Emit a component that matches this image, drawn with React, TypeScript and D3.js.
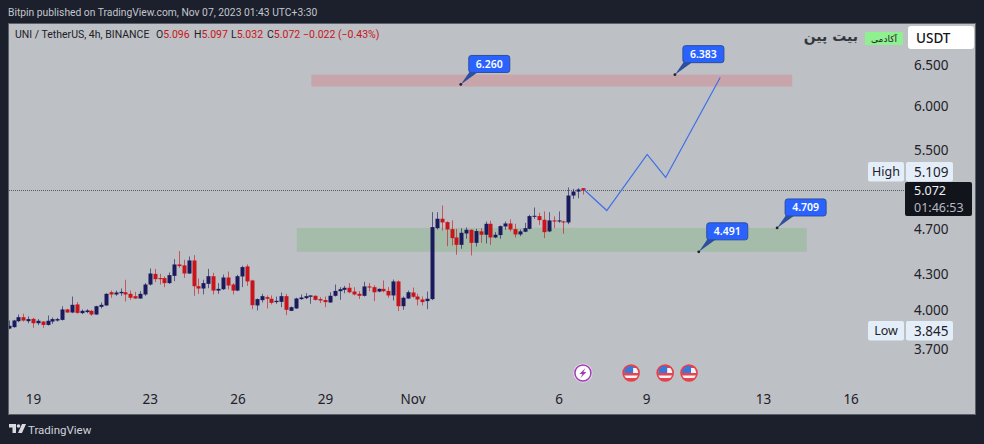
// UNI / TetherUS 4h chart, drawn with d3 through a ref
import { useEffect, useRef } from 'react';
import * as d3 from 'd3';

const W = 984, H = 444;
const uiFont = "'Noto Sans','Open Sans',sans-serif";
const headFont = "Roboto,'Noto Sans',sans-serif";

const C = {
  page: '#1c202c',
  pane: '#bdc0c4',
  up: '#1b1a5e',
  down: '#c8141a',
  text: '#1e2129',
  callout: '#2962ff',
  calloutEdge: '#2d4f9e',
  line: '#3f6fe8',
  zoneRed: '#c8a5aa',
  zoneGreen: '#a6bcab',
  tag: '#e4eef9',
};

// 4h bars, first bar is Oct 18 04:00 UTC
const FIRST_BAR = Date.UTC(2023, 9, 18, 4);
const BAR_MS = 4 * 3600 * 1000;

const opens = [
  3.857,3.868,3.914,3.945,3.914,3.932,3.898,3.911,3.885,3.911,3.919,3.924,4.006,3.982,4.046,3.977,3.985,3.995,3.966,4.027,
  4.038,4.145,4.127,4.137,4.145,4.132,4.113,4.094,4.127,4.209,4.299,4.263,4.263,4.221,4.282,4.380,4.372,4.302,4.415,4.195,
  4.176,4.215,4.279,4.159,4.170,4.268,4.209,4.159,4.277,4.363,4.243,4.038,4.081,4.105,4.092,4.065,4.067,4.113,3.995,4.014,
  4.089,4.097,4.108,4.116,4.089,4.081,4.062,4.116,4.154,4.165,4.182,4.151,4.132,4.116,4.193,4.187,4.151,4.173,4.156,4.119,
  4.235,4.032,4.094,4.143,4.110,4.086,4.073,4.089,4.707,4.796,4.764,4.698,4.621,4.554,4.658,4.692,4.572,4.677,4.646,4.748,
  4.621,4.643,4.723,4.751,4.698,4.649,4.674,4.701,4.815,4.821,4.786,4.677,4.780,4.770,4.770,4.761,5.022,5.062,5.096,
];
const highs = [
  3.919,3.924,3.966,3.972,3.951,3.940,3.930,3.914,3.958,3.943,3.940,4.032,4.011,4.110,4.065,4.006,4.008,4.003,4.035,4.062,
  4.137,4.159,4.159,4.176,4.249,4.159,4.148,4.154,4.221,4.345,4.342,4.299,4.277,4.311,4.427,4.498,4.421,4.450,4.462,4.260,
  4.249,4.342,4.308,4.221,4.293,4.319,4.221,4.291,4.369,4.380,4.249,4.094,4.132,4.119,4.119,4.110,4.143,4.132,4.030,4.100,
  4.127,4.137,4.119,4.119,4.105,4.110,4.145,4.209,4.187,4.198,4.221,4.187,4.154,4.232,4.221,4.204,4.176,4.243,4.187,4.251,
  4.243,4.110,4.159,4.184,4.132,4.110,4.151,4.859,4.859,4.924,4.771,4.780,4.701,4.707,4.714,4.695,4.701,4.707,4.770,4.777,
  4.670,4.732,4.770,4.790,4.748,4.695,4.757,4.834,4.904,4.853,4.866,4.859,4.819,4.866,4.777,5.103,5.089,5.096,5.097,
];
const lows = [
  3.852,3.863,3.906,3.911,3.898,3.863,3.883,3.863,3.880,3.893,3.911,3.919,3.979,3.977,3.972,3.969,3.977,3.956,3.964,4.014,
  4.035,4.100,4.116,4.116,4.070,4.083,4.092,4.092,4.116,4.201,4.229,4.209,4.187,4.215,4.237,4.351,4.265,4.299,4.116,4.132,
  4.127,4.179,4.127,4.132,4.165,4.168,4.127,4.154,4.187,4.198,4.008,3.998,4.062,4.014,4.046,4.051,4.024,3.961,3.993,4.011,
  4.083,4.089,4.051,4.078,4.057,4.024,4.059,4.110,4.083,4.137,4.137,4.119,4.089,4.110,4.154,4.073,4.145,4.145,4.100,4.078,
  3.993,4.003,4.092,4.100,4.038,4.038,4.008,4.081,4.695,4.686,4.542,4.548,4.465,4.518,4.609,4.459,4.539,4.572,4.566,4.554,
  4.615,4.609,4.692,4.677,4.621,4.633,4.670,4.695,4.796,4.738,4.615,4.670,4.707,4.758,4.655,4.745,4.989,4.995,5.032,
];
const closes = [
  3.878,3.919,3.945,3.919,3.930,3.898,3.917,3.885,3.917,3.930,3.930,4.006,3.982,4.043,3.979,3.995,3.998,3.966,4.032,4.043,
  4.132,4.127,4.143,4.148,4.127,4.100,4.094,4.132,4.209,4.302,4.254,4.254,4.221,4.288,4.380,4.366,4.302,4.415,4.195,4.176,
  4.221,4.279,4.159,4.173,4.268,4.201,4.159,4.279,4.357,4.235,4.040,4.089,4.113,4.092,4.059,4.075,4.113,4.003,4.024,4.094,
  4.102,4.113,4.119,4.083,4.078,4.065,4.116,4.156,4.170,4.182,4.145,4.127,4.116,4.193,4.184,4.145,4.173,4.154,4.119,4.235,
  4.032,4.100,4.145,4.108,4.086,4.065,4.092,4.717,4.796,4.761,4.695,4.615,4.554,4.664,4.692,4.572,4.680,4.646,4.748,4.621,
  4.646,4.726,4.751,4.695,4.649,4.677,4.707,4.821,4.824,4.783,4.670,4.780,4.770,4.780,4.761,5.022,5.062,5.082,5.072,
];

// axis
const priceTicks = [6.5, 6.0, 5.5, 4.7, 4.3, 4.0, 3.7];
const timeTicks = [
  Date.UTC(2023, 9, 19), Date.UTC(2023, 9, 23), Date.UTC(2023, 9, 26), Date.UTC(2023, 9, 29),
  Date.UTC(2023, 10, 1), Date.UTC(2023, 10, 6), Date.UTC(2023, 10, 9), Date.UTC(2023, 10, 13), Date.UTC(2023, 10, 16),
];

// drawings: bars count from the first bar
const zoneBars = [[62.2, 161], [59.2, 164]];
const zonePrices = [[6.383, 6.235], [4.709, 4.491]];
const calloutBars = [92.9, 136.9, 141.8, 157.9];
const calloutPrices = [6.26, 6.383, 4.491, 4.709];
const pathBars = [118.2, 122.9, 131.2, 135, 146.2];
const pathPrices = [5.082, 4.875, 5.448, 5.205, 6.347];

const flashEventBar = 118;
const usEventBars = [127.9, 134.9, 139.8];

const legendHead = 'UNI / TetherUS, 4h, BINANCE';
const legendLabels = ['O', 'H', 'L', 'C'];
const legendValues = ['5.096', '5.097', '5.032', '5.072'];
const legendChange = '−0.022 (−0.43%)';

const barTime = (i: number) => new Date(FIRST_BAR + i * BAR_MS);

export default function App() {
  const svgRef = useRef<SVGSVGElement>(null);

  useEffect(() => {
    const svg = d3.select(svgRef.current);
    svg.selectAll('*').remove();
    svg.attr('font-family', uiFont);

    const x = d3.scaleUtc().domain([new Date(timeTicks[0]), new Date(timeTicks[8])]).range([33, 850.6]);
    const y = d3.scaleLog().domain([3.7, 6.5]).range([349.5, 65.5]);
    const bx = (i: number) => x(barTime(i));

    // frame
    svg.append('rect').attr('width', W).attr('height', H).attr('fill', C.page);
    svg.append('rect').attr('x', 8.5).attr('y', 23.5).attr('width', 967).attr('height', 391)
      .attr('fill', C.pane).attr('stroke', '#5c6068');
    svg.append('text').attr('x', 8).attr('y', 16).attr('font-family', headFont).attr('font-size', 10.3).attr('fill', '#c3c6cd')
      .text('Bitpin published on TradingView.com, Nov 07, 2023 01:43 UTC+3:30');

    const defs = svg.append('defs');
    defs.append('clipPath').attr('id', 'pane').append('rect')
      .attr('x', 9).attr('y', 24).attr('width', 896).attr('height', 390);

    const plot = svg.append('g').attr('clip-path', 'url(#pane)');

    // zones
    plot.selectAll('.zone').data(zoneBars).join('rect').attr('class', 'zone')
      .attr('x', d => bx(d[0]))
      .attr('width', d => bx(d[1]) - bx(d[0]))
      .attr('y', (_, i) => y(zonePrices[i][0]))
      .attr('height', (_, i) => y(zonePrices[i][1]) - y(zonePrices[i][0]))
      .attr('fill', (_, i) => (i === 0 ? C.zoneRed : C.zoneGreen));

    // last price line
    plot.append('line').attr('x1', 9).attr('x2', 905)
      .attr('y1', y(closes[closes.length - 1])).attr('y2', y(closes[closes.length - 1]))
      .attr('stroke', '#5a5c62').attr('stroke-dasharray', '1 1');

    // candles
    const idx = d3.range(opens.length);
    const color = (i: number) => (closes[i] >= opens[i] ? C.up : C.down);
    plot.selectAll('.wick').data(idx).join('line').attr('class', 'wick')
      .attr('x1', i => Math.round(bx(i)) + 0.5).attr('x2', i => Math.round(bx(i)) + 0.5)
      .attr('y1', i => y(highs[i])).attr('y2', i => y(lows[i]))
      .attr('stroke', color).attr('stroke-opacity', 0.62);
    plot.selectAll('.body').data(idx).join('rect').attr('class', 'body')
      .attr('x', i => Math.round(bx(i)) - 1.5).attr('width', 4)
      .attr('y', i => y(Math.max(opens[i], closes[i])))
      .attr('height', i => Math.max(1, Math.abs(y(opens[i]) - y(closes[i]))))
      .attr('fill', color);

    // projected path
    const pathLine = d3.line<number>().x(d => bx(d)).y((_, i) => y(pathPrices[i]));
    plot.append('path').datum(pathBars).attr('d', pathLine)
      .attr('fill', 'none').attr('stroke', C.line).attr('stroke-width', 1.2);

    // callouts
    calloutBars.forEach((bar, i) => {
      const ax = bx(bar), ay = y(calloutPrices[i]);
      const g = svg.append('g').attr('transform', `translate(${ax},${ay})`);
      g.append('path').attr('d', 'M0,0 L9,-13 L18,-13 Z').attr('fill', C.calloutEdge);
      g.append('rect').attr('x', 8).attr('y', -29).attr('width', 41).attr('height', 17).attr('rx', 2.5)
        .attr('fill', C.callout).attr('stroke', C.calloutEdge);
      g.append('circle').attr('r', 1.4).attr('fill', '#1e2129');
      g.append('text').attr('x', 28.5).attr('y', -16.5).attr('text-anchor', 'middle')
        .attr('font-size', 10.5).attr('font-weight', 600).attr('fill', '#fff')
        .text(calloutPrices[i].toFixed(3));
    });

    // price axis
    svg.append('g').attr('transform', 'translate(906,0)')
      .call(d3.axisRight(y).tickValues(priceTicks).tickSize(0).tickPadding(8).tickFormat(d => (+d).toFixed(3)))
      .call(ax => {
        ax.select('.domain').remove();
        ax.selectAll('text').attr('fill', C.text).attr('font-family', uiFont).attr('font-size', 13.5);
      });

    // time axis
    svg.append('g').attr('transform', 'translate(0,394)')
      .call(d3.axisBottom(x).tickValues(timeTicks.map(t => new Date(t))).tickSize(0).tickPadding(0)
        .tickFormat(d => {
          const dt = d as Date;
          return dt.getUTCDate() === 1 ? 'Nov' : String(dt.getUTCDate());
        }))
      .call(ax => {
        ax.select('.domain').remove();
        ax.selectAll('text').attr('fill', C.text).attr('font-family', uiFont).attr('font-size', 13.5);
      });

    // legend
    const legendY = 38;
    svg.append('text').attr('x', 15).attr('y', legendY).attr('font-family', headFont).attr('font-size', 10.5).attr('fill', C.text).text(legendHead);
    const legendX = [156, 194, 231, 267];
    legendLabels.forEach((l, i) => {
      const t = svg.append('text').attr('x', legendX[i]).attr('y', legendY).attr('font-family', headFont).attr('font-size', 10.5).attr('fill', C.text);
      t.append('tspan').text(l);
      t.append('tspan').attr('fill', C.down).text(legendValues[i]);
    });
    svg.append('text').attr('x', 303).attr('y', legendY).attr('font-family', headFont).attr('font-size', 10.5).attr('fill', C.down).text(legendChange);

    // logo
    svg.append('text').attr('x', 858).attr('y', 41).attr('text-anchor', 'end')
      .attr('font-family', "'DejaVu Sans',sans-serif").attr('font-size', 14).attr('font-weight', 700).attr('fill', '#33363c')
      .text('بیت پین');
    svg.append('rect').attr('x', 865).attr('y', 32).attr('width', 38).attr('height', 13).attr('fill', '#8ff08f');
    svg.append('text').attr('x', 884).attr('y', 42).attr('text-anchor', 'middle')
      .attr('font-family', "'DejaVu Sans',sans-serif").attr('font-size', 9).attr('fill', '#1e2129')
      .text('آکادمی');

    // currency button
    svg.append('rect').attr('x', 908).attr('y', 26).attr('width', 66).attr('height', 23).attr('rx', 3).attr('fill', '#fff');
    svg.append('text').attr('x', 916).attr('y', 42.5).attr('font-size', 13.5).attr('font-weight', 500).attr('fill', '#14161c').text('USDT');

    // high / low tags
    const tag = (label: string, value: string, top: number) => {
      const g = svg.append('g');
      g.append('rect').attr('x', 868).attr('y', top).attr('width', 36).attr('height', 19.5).attr('rx', 2).attr('fill', C.tag);
      g.append('rect').attr('x', 906).attr('y', top).attr('width', 47).attr('height', 19.5).attr('rx', 2).attr('fill', C.tag);
      g.append('text').attr('x', 886).attr('y', top + 14).attr('text-anchor', 'middle').attr('font-size', 12.5).attr('fill', C.text).text(label);
      g.append('text').attr('x', 914).attr('y', top + 14.5).attr('font-size', 13.5).attr('fill', C.text).text(value);
    };
    tag('High', '5.109', 162);
    tag('Low', '3.845', 321);

    // last price tag
    svg.append('rect').attr('x', 905).attr('y', 182).attr('width', 67).attr('height', 34).attr('rx', 2).attr('fill', '#12141c');
    svg.append('text').attr('x', 914).attr('y', 195).attr('font-size', 12.5).attr('fill', '#eef0f4').text(closes[closes.length - 1].toFixed(3));
    svg.append('text').attr('x', 914).attr('y', 212).attr('font-size', 12.5).attr('fill', '#b6b9c1').text('01:46:53');

    // event badges
    const eventY = 373;
    const flash = svg.append('g').attr('transform', `translate(${bx(flashEventBar)},${eventY})`);
    flash.append('circle').attr('r', 9.5).attr('fill', '#e8e3ee');
    flash.append('circle').attr('r', 8).attr('fill', '#fff').attr('stroke', '#a23bb8').attr('stroke-width', 1.5);
    flash.append('path').attr('d', 'M2.5,-5 L-3.5,1 L-0.5,1 L-2.5,5 L3.5,-1 L0.5,-1 Z').attr('fill', '#a23bb8');

    usEventBars.forEach((bar, n) => {
      const g = svg.append('g').attr('transform', `translate(${bx(bar)},${eventY})`);
      const id = `flag${n}`;
      defs.append('clipPath').attr('id', id).append('circle').attr('r', 8);
      const inner = g.append('g').attr('clip-path', `url(#${id})`);
      inner.append('rect').attr('x', -9).attr('y', -9).attr('width', 18).attr('height', 18).attr('fill', '#f4f4f6');
      inner.append('rect').attr('x', -9).attr('y', 0).attr('width', 18).attr('height', 2.5).attr('fill', '#e8434f');
      inner.append('rect').attr('x', -9).attr('y', 5).attr('width', 18).attr('height', 4).attr('fill', '#e8434f');
      inner.append('rect').attr('x', -9).attr('y', -9).attr('width', 18).attr('height', 4).attr('fill', '#e8434f');
      inner.append('rect').attr('x', -7).attr('y', -7).attr('width', 9).attr('height', 7).attr('fill', '#3a78d8');
      g.append('circle').attr('r', 8).attr('fill', 'none').attr('stroke', '#e5404c').attr('stroke-width', 1.6);
    });

    // footer logo
    const logo = svg.append('g').attr('transform', 'translate(9,424)').attr('fill', '#d8dae0');
    logo.append('path').attr('d', 'M0,0 H7 V9 H3.5 V3.5 H0 Z');
    logo.append('circle').attr('cx', 9.5).attr('cy', 2).attr('r', 1.8);
    logo.append('path').attr('d', 'M13,0 H17 L13,9 H9 Z');
    svg.append('text').attr('x', 28).attr('y', 434).attr('font-family', headFont).attr('font-size', 11.5).attr('fill', '#d0d3da').text('TradingView');
  }, []);

  return <svg ref={svgRef} width={W} height={H} style={{ position: 'absolute', left: 0, top: 0 }} />;
}
